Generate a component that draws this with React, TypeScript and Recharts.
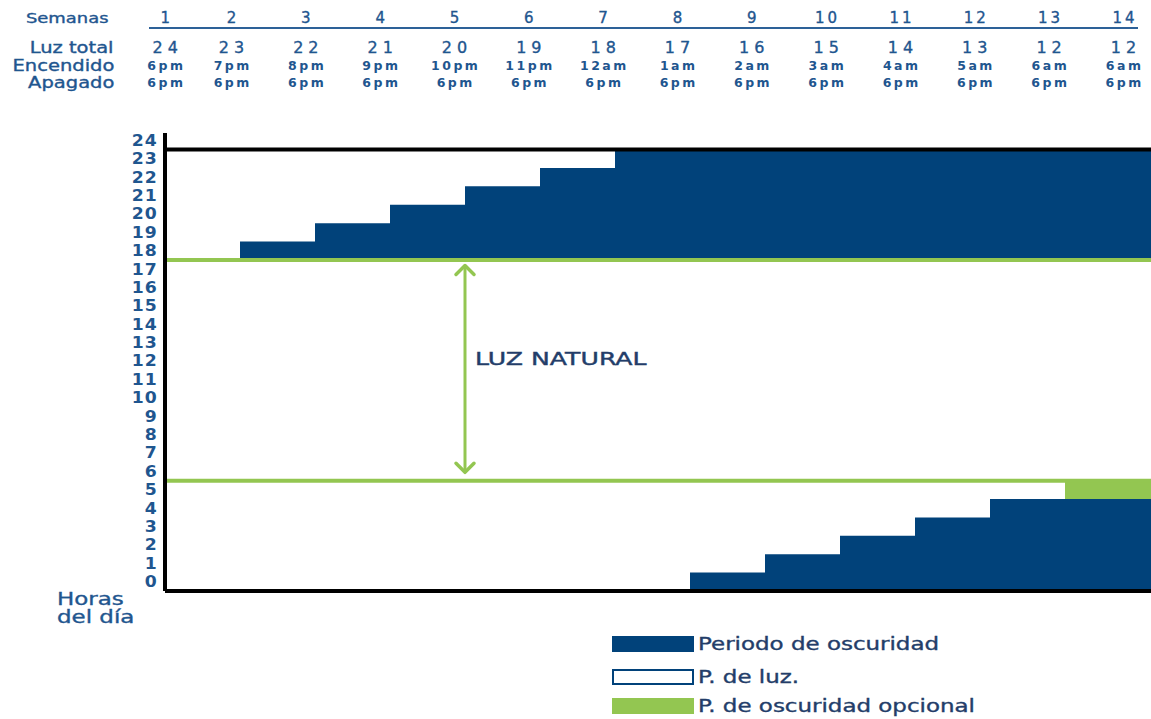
import { BarChart, Bar, XAxis, YAxis, ReferenceLine } from "recharts";

// weeks of the programme and the light table above the chart
const weeks = [1, 2, 3, 4, 5, 6, 7, 8, 9, 10, 11, 12, 13, 14];
const luzTotal = [24, 23, 22, 21, 20, 19, 18, 17, 16, 15, 14, 13, 12, 12];
const encendido = ["6pm", "7pm", "8pm", "9pm", "10pm", "11pm", "12am", "1am", "2am", "3am", "4am", "5am", "6am", "6am"];
const apagado = ["6pm", "6pm", "6pm", "6pm", "6pm", "6pm", "6pm", "6pm", "6pm", "6pm", "6pm", "6pm", "6pm", "6pm"];

// hour (0-24) where evening darkness ends, morning darkness ends, optional dark hours
const nightDarkEnd = [18, 19, 20, 21, 22, 23, 24, 24, 24, 24, 24, 24, 24, 24];
const morningDarkEnd = [0, 0, 0, 0, 0, 0, 0, 1, 2, 3, 4, 5, 5, 5];
const optionalDark = [0, 0, 0, 0, 0, 0, 0, 0, 0, 0, 0, 0, 1, 1];
const lightsOff = 18;
const naturalLight = [6, 18];

const hourTicks = [0, 1, 2, 3, 4, 5, 6, 7, 8, 9, 10, 11, 12, 13, 14, 15, 16, 17, 18, 19, 20, 21, 22, 23, 24];
const rowLabels = ["Luz total", "Encendido", "Apagado"];
const legendLabels = ["Periodo de oscuridad", "P. de luz.", "P. de oscuridad opcional"];

const BLUE = "#01427a";
const GREEN = "#93c651";
const TEXT = "#1f568f";
const DARK_TEXT = "#233d69";
const MEDIUM = "0.35px";

const data = weeks.map((week, i) => ({
  week,
  morning: morningDarkEnd[i],
  optional: optionalDark[i],
  light: lightsOff - morningDarkEnd[i] - optionalDark[i],
  night: nightDarkEnd[i] - lightsOff,
}));

// the original type is wide, so stretch DejaVu horizontally
function Wide({ children, k = 1.3, origin = "left" }: any) {
  return (
    <span
      style={{
        display: "inline-block",
        transform: `scaleX(${k})`,
        transformOrigin: origin,
        whiteSpace: "nowrap",
        WebkitTextStroke: MEDIUM,
      }}
    >
      {children}
    </span>
  );
}

const HourTick = ({ x, y, payload }: any) => (
  <g transform={`translate(${x},${y}) scale(1.15,1)`}>
    <text textAnchor="end" dy="0.36em" fill={TEXT} fontSize={15} fontWeight="bold" letterSpacing={1}>
      {Math.floor(payload.value)}
    </text>
  </g>
);

const DoubleArrow = (props: any) => {
  const { x1, y1, y2 } = props;
  const top = Math.min(y1, y2);
  const bottom = Math.max(y1, y2);
  return (
    <g>
      <line x1={x1} y1={top + 1} x2={x1} y2={bottom - 1} stroke={GREEN} strokeWidth={3} />
      <polyline
        points={`${x1 - 9},${top + 10} ${x1},${top + 1} ${x1 + 9},${top + 10}`}
        fill="none"
        stroke={GREEN}
        strokeWidth={3.5}
        strokeLinecap="round"
        strokeLinejoin="round"
      />
      <polyline
        points={`${x1 - 9},${bottom - 10} ${x1},${bottom - 1} ${x1 + 9},${bottom - 10}`}
        fill="none"
        stroke={GREEN}
        strokeWidth={3.5}
        strokeLinecap="round"
        strokeLinejoin="round"
      />
      <g transform={`translate(${x1 + 10},${top + (bottom - top) * 0.45}) scale(1.4,1)`}>
        <text dy="0.36em" fill={DARK_TEXT} stroke={DARK_TEXT} strokeWidth={0.4} fontSize={18}>
          LUZ NATURAL
        </text>
      </g>
    </g>
  );
};

const colLeft = 120;
const colWidth = 74.33;

function HeaderRow({ values, top, size, bold, spacing }: any) {
  return (
    <>
      {values.map((v: any, i: number) => (
        <div
          key={i}
          style={{
            position: "absolute",
            left: colLeft + i * colWidth + (i === 0 ? 8 : 0),
            top,
            width: colWidth,
            textAlign: "center",
            fontSize: size,
            lineHeight: "18px",
            fontWeight: bold ? "bold" : "normal",
            letterSpacing: spacing,
            paddingLeft: spacing,
            boxSizing: "border-box",
            color: TEXT,
            WebkitTextStroke: bold ? undefined : MEDIUM,
          }}
        >
          {v}
        </div>
      ))}
    </>
  );
}

export default function App() {
  return (
    <div
      style={{
        position: "absolute",
        left: 0,
        top: 0,
        width: 1151,
        height: 719,
        overflow: "hidden",
        background: "#fff",
        fontFamily: '"DejaVu Sans", sans-serif',
      }}
    >
      <div style={{ position: "absolute", left: 0, top: 0 }}>
        <BarChart
          width={1215}
          height={600}
          data={data}
          margin={{ top: 133, right: 0, left: 105, bottom: 9 }}
          barCategoryGap={0}
          barGap={0}
        >
          <XAxis dataKey="week" hide />
          <YAxis
            type="number"
            domain={[0, 24.9]}
            ticks={hourTicks.map((h) => h + 0.5)}
            interval={0}
            width={60}
            tickLine={false}
            tickSize={0}
            tickMargin={7}
            tick={<HourTick />}
            axisLine={{ stroke: "#000", strokeWidth: 4 }}
          />
          <Bar dataKey="morning" stackId="h" fill={BLUE} isAnimationActive={false} />
          <Bar dataKey="optional" stackId="h" fill={GREEN} isAnimationActive={false} />
          <Bar dataKey="light" stackId="h" fill="transparent" isAnimationActive={false} />
          <Bar dataKey="night" stackId="h" fill={BLUE} isAnimationActive={false} />
          <ReferenceLine y={24} stroke="#000" strokeWidth={4} />
          <ReferenceLine y={0} stroke="#000" strokeWidth={4} />
          {naturalLight.map((h) => (
            <ReferenceLine key={h} y={h} stroke={GREEN} strokeWidth={4} />
          ))}
          <ReferenceLine
            position="end"
            segment={[
              { x: 4, y: 17.75 },
              { x: 4, y: 6.4 },
            ]}
            shape={<DoubleArrow />}
          />
        </BarChart>
      </div>

      {/* light table */}
      <div style={{ position: "absolute", left: 0, top: 9, width: 108, textAlign: "right", fontSize: 14, lineHeight: "18px", color: TEXT }}>
        <Wide origin="right" k={1.28}>Semanas</Wide>
      </div>
      {rowLabels.map((r, i) => (
        <div
          key={r}
          style={{
            position: "absolute",
            left: 0,
            top: [39, 57, 74][i],
            width: 114,
            textAlign: "right",
            fontSize: 15,
            lineHeight: "18px",
            color: TEXT,
          }}
        >
          <Wide origin="right" k={1.3}>{r}</Wide>
        </div>
      ))}
      <div style={{ position: "absolute", left: 149, top: 27, width: 989, height: 2, background: "#2d6198" }} />
      <HeaderRow values={weeks} top={9} size={15} spacing={3} />
      <HeaderRow values={luzTotal} top={39} size={16} spacing={5} />
      <HeaderRow values={encendido} top={57} size={12.5} bold spacing={2.5} />
      <HeaderRow values={apagado} top={74} size={12.5} bold spacing={2.5} />

      {/* axis title */}
      <div style={{ position: "absolute", left: 57, top: 590, fontSize: 17, lineHeight: "18px", color: TEXT }}>
        <Wide k={1.35}>Horas</Wide>
        <br />
        <Wide k={1.35}>del día</Wide>
      </div>

      {/* legend */}
      {legendLabels.map((label, i) => (
        <div key={label} style={{ position: "absolute", left: 612, top: [636, 669, 698][i], height: 16, display: "flex", alignItems: "center" }}>
          <div
            style={{
              width: 82,
              height: 16,
              boxSizing: "border-box",
              background: i === 0 ? BLUE : i === 2 ? GREEN : "#fff",
              border: i === 1 ? `2px solid ${BLUE}` : "none",
            }}
          />
          <div style={{ marginLeft: 4, fontSize: 17, lineHeight: "16px", color: DARK_TEXT }}>
            <Wide k={1.35}>{label}</Wide>
          </div>
        </div>
      ))}
    </div>
  );
}
